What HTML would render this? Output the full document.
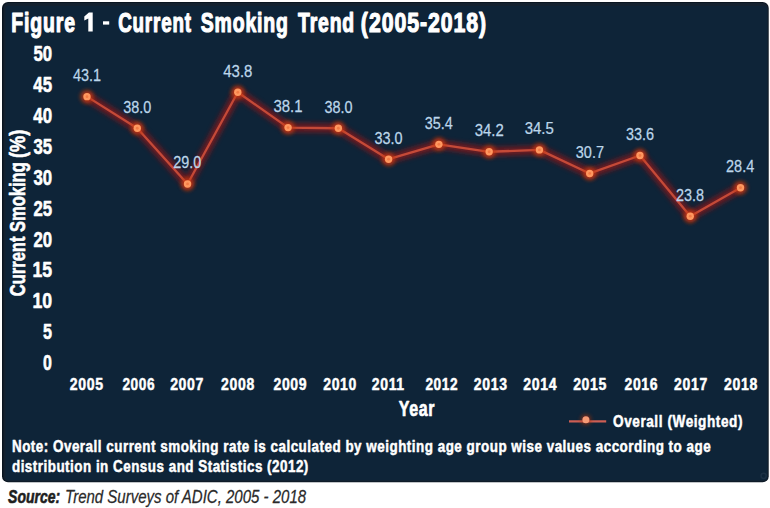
<!DOCTYPE html>
<html><head><meta charset="utf-8"><style>
html,body{margin:0;padding:0;background:#fff;}
body{width:770px;height:508px;overflow:hidden;position:relative;font-family:"Liberation Sans", sans-serif;}
svg{position:absolute;left:0;top:0;}
</style></head><body>
<svg width="770" height="508" viewBox="0 0 770 508" font-family='"Liberation Sans", sans-serif'>
<defs>
<filter id="glow" x="-20%" y="-20%" width="140%" height="140%"><feGaussianBlur stdDeviation="2.8"/></filter>
<filter id="glow2" x="-50%" y="-50%" width="200%" height="200%"><feGaussianBlur stdDeviation="2"/></filter>
</defs>
<rect x="2" y="2" width="766.7" height="480.2" rx="6" ry="6" fill="#0a1520"/>
<rect x="3.5" y="3" width="764.4" height="478.4" rx="5" ry="5" fill="#142230"/>
<rect x="5.5" y="6" width="761.8" height="474.2" rx="3" ry="3" fill="#0e2438"/>
<circle cx="763.6" cy="475.8" r="2.6" fill="none" stroke="#1b3044" stroke-width="1.5"/>

<polyline points="87.00,96.64 137.27,128.23 187.54,183.97 237.81,92.30 288.08,127.61 338.35,128.23 388.62,159.20 438.89,144.33 489.16,151.77 539.43,149.91 589.70,173.44 639.97,155.48 690.24,216.18 740.51,187.69" fill="none" stroke="#961818" stroke-width="9" stroke-linejoin="round" opacity="0.7" filter="url(#glow)"/>
<polyline points="87.00,96.64 137.27,128.23 187.54,183.97 237.81,92.30 288.08,127.61 338.35,128.23 388.62,159.20 438.89,144.33 489.16,151.77 539.43,149.91 589.70,173.44 639.97,155.48 690.24,216.18 740.51,187.69" fill="none" stroke="#c44a38" stroke-width="2.3" stroke-linejoin="round"/>
<circle cx="87.00" cy="96.64" r="6.5" fill="#c8380e" opacity="0.85" filter="url(#glow2)"/>
<circle cx="137.27" cy="128.23" r="6.5" fill="#c8380e" opacity="0.85" filter="url(#glow2)"/>
<circle cx="187.54" cy="183.97" r="6.5" fill="#c8380e" opacity="0.85" filter="url(#glow2)"/>
<circle cx="237.81" cy="92.30" r="6.5" fill="#c8380e" opacity="0.85" filter="url(#glow2)"/>
<circle cx="288.08" cy="127.61" r="6.5" fill="#c8380e" opacity="0.85" filter="url(#glow2)"/>
<circle cx="338.35" cy="128.23" r="6.5" fill="#c8380e" opacity="0.85" filter="url(#glow2)"/>
<circle cx="388.62" cy="159.20" r="6.5" fill="#c8380e" opacity="0.85" filter="url(#glow2)"/>
<circle cx="438.89" cy="144.33" r="6.5" fill="#c8380e" opacity="0.85" filter="url(#glow2)"/>
<circle cx="489.16" cy="151.77" r="6.5" fill="#c8380e" opacity="0.85" filter="url(#glow2)"/>
<circle cx="539.43" cy="149.91" r="6.5" fill="#c8380e" opacity="0.85" filter="url(#glow2)"/>
<circle cx="589.70" cy="173.44" r="6.5" fill="#c8380e" opacity="0.85" filter="url(#glow2)"/>
<circle cx="639.97" cy="155.48" r="6.5" fill="#c8380e" opacity="0.85" filter="url(#glow2)"/>
<circle cx="690.24" cy="216.18" r="6.5" fill="#c8380e" opacity="0.85" filter="url(#glow2)"/>
<circle cx="740.51" cy="187.69" r="6.5" fill="#c8380e" opacity="0.85" filter="url(#glow2)"/>
<circle cx="87.00" cy="96.64" r="3.7" fill="#ff9860"/>
<circle cx="87.00" cy="96.64" r="1.4" fill="#f47c44"/>
<circle cx="137.27" cy="128.23" r="3.7" fill="#ff9860"/>
<circle cx="137.27" cy="128.23" r="1.4" fill="#f47c44"/>
<circle cx="187.54" cy="183.97" r="3.7" fill="#ff9860"/>
<circle cx="187.54" cy="183.97" r="1.4" fill="#f47c44"/>
<circle cx="237.81" cy="92.30" r="3.7" fill="#ff9860"/>
<circle cx="237.81" cy="92.30" r="1.4" fill="#f47c44"/>
<circle cx="288.08" cy="127.61" r="3.7" fill="#ff9860"/>
<circle cx="288.08" cy="127.61" r="1.4" fill="#f47c44"/>
<circle cx="338.35" cy="128.23" r="3.7" fill="#ff9860"/>
<circle cx="338.35" cy="128.23" r="1.4" fill="#f47c44"/>
<circle cx="388.62" cy="159.20" r="3.7" fill="#ff9860"/>
<circle cx="388.62" cy="159.20" r="1.4" fill="#f47c44"/>
<circle cx="438.89" cy="144.33" r="3.7" fill="#ff9860"/>
<circle cx="438.89" cy="144.33" r="1.4" fill="#f47c44"/>
<circle cx="489.16" cy="151.77" r="3.7" fill="#ff9860"/>
<circle cx="489.16" cy="151.77" r="1.4" fill="#f47c44"/>
<circle cx="539.43" cy="149.91" r="3.7" fill="#ff9860"/>
<circle cx="539.43" cy="149.91" r="1.4" fill="#f47c44"/>
<circle cx="589.70" cy="173.44" r="3.7" fill="#ff9860"/>
<circle cx="589.70" cy="173.44" r="1.4" fill="#f47c44"/>
<circle cx="639.97" cy="155.48" r="3.7" fill="#ff9860"/>
<circle cx="639.97" cy="155.48" r="1.4" fill="#f47c44"/>
<circle cx="690.24" cy="216.18" r="3.7" fill="#ff9860"/>
<circle cx="690.24" cy="216.18" r="1.4" fill="#f47c44"/>
<circle cx="740.51" cy="187.69" r="3.7" fill="#ff9860"/>
<circle cx="740.51" cy="187.69" r="1.4" fill="#f47c44"/>
<path d="M88.9 12.6 L92.7 12.6 L92.7 31.6 L88.3 31.6 L88.3 18.6 L84.3 20.6 L84.3 16.6 Z" fill="#fff"/>
<rect x="103" y="21.3" width="6.2" height="3.3" fill="#fff"/>
<line x1="569" y1="421.6" x2="606.2" y2="421.6" stroke="#7a1020" stroke-width="5" opacity="0.7" filter="url(#glow2)"/>
<line x1="569" y1="421.4" x2="606.2" y2="421.4" stroke="#cc5e54" stroke-width="2.3"/>
<circle cx="585.9" cy="419.8" r="5" fill="#b0300c" opacity="0.7" filter="url(#glow2)"/>
<circle cx="585.9" cy="419.7" r="3.5" fill="#f59a76"/>
<text transform="translate(11.30,31.50) scale(0.7045,1)" font-size="27.62" font-weight="bold" font-style="normal" fill="#ffffff" stroke="#ffffff" stroke-width="1.2" stroke-linejoin="round" letter-spacing="1.2">Figure</text>
<text transform="translate(118.15,31.50) scale(0.6814,1)" font-size="27.62" font-weight="bold" font-style="normal" fill="#ffffff" stroke="#ffffff" stroke-width="1.2" stroke-linejoin="round" letter-spacing="1.2">Current</text>
<text transform="translate(200.77,31.50) scale(0.7042,1)" font-size="27.62" font-weight="bold" font-style="normal" fill="#ffffff" stroke="#ffffff" stroke-width="1.2" stroke-linejoin="round" letter-spacing="1.2">Smoking</text>
<text transform="translate(298.11,31.50) scale(0.7002,1)" font-size="27.62" font-weight="bold" font-style="normal" fill="#ffffff" stroke="#ffffff" stroke-width="1.2" stroke-linejoin="round" letter-spacing="1.2">Trend</text>
<text transform="translate(360.87,31.50) scale(0.7710,1)" font-size="27.62" font-weight="bold" font-style="normal" fill="#ffffff" stroke="#ffffff" stroke-width="1.2" stroke-linejoin="round" letter-spacing="1.2">(2005-2018)</text>
<text transform="translate(43.11,370.40) scale(0.7391,1)" font-size="21.57" font-weight="bold" font-style="normal" fill="#ffffff" stroke="#ffffff" stroke-width="0.6" stroke-linejoin="round">0</text>
<text transform="translate(43.06,339.43) scale(0.7483,1)" font-size="21.57" font-weight="bold" font-style="normal" fill="#ffffff" stroke="#ffffff" stroke-width="0.6" stroke-linejoin="round">5</text>
<text transform="translate(32.45,308.46) scale(0.8181,1)" font-size="21.57" font-weight="bold" font-style="normal" fill="#ffffff" stroke="#ffffff" stroke-width="0.6" stroke-linejoin="round">10</text>
<text transform="translate(32.45,277.49) scale(0.8181,1)" font-size="21.57" font-weight="bold" font-style="normal" fill="#ffffff" stroke="#ffffff" stroke-width="0.6" stroke-linejoin="round">15</text>
<text transform="translate(33.45,246.52) scale(0.7772,1)" font-size="21.57" font-weight="bold" font-style="normal" fill="#ffffff" stroke="#ffffff" stroke-width="0.6" stroke-linejoin="round">20</text>
<text transform="translate(33.45,215.55) scale(0.7772,1)" font-size="21.57" font-weight="bold" font-style="normal" fill="#ffffff" stroke="#ffffff" stroke-width="0.6" stroke-linejoin="round">25</text>
<text transform="translate(33.45,184.58) scale(0.7772,1)" font-size="21.57" font-weight="bold" font-style="normal" fill="#ffffff" stroke="#ffffff" stroke-width="0.6" stroke-linejoin="round">30</text>
<text transform="translate(33.45,153.61) scale(0.7772,1)" font-size="21.57" font-weight="bold" font-style="normal" fill="#ffffff" stroke="#ffffff" stroke-width="0.6" stroke-linejoin="round">35</text>
<text transform="translate(33.27,122.64) scale(0.7840,1)" font-size="21.57" font-weight="bold" font-style="normal" fill="#ffffff" stroke="#ffffff" stroke-width="0.6" stroke-linejoin="round">40</text>
<text transform="translate(33.25,91.67) scale(0.7840,1)" font-size="21.57" font-weight="bold" font-style="normal" fill="#ffffff" stroke="#ffffff" stroke-width="0.6" stroke-linejoin="round">45</text>
<text transform="translate(33.45,60.70) scale(0.7772,1)" font-size="21.57" font-weight="bold" font-style="normal" fill="#ffffff" stroke="#ffffff" stroke-width="0.6" stroke-linejoin="round">50</text>
<text transform="translate(69.75,389.90) scale(0.8150,1)" font-size="17.29" font-weight="bold" font-style="normal" fill="#ffffff" stroke="#ffffff" stroke-width="0.5" stroke-linejoin="round" letter-spacing="0.8">2005</text>
<text transform="translate(122.38,389.90) scale(0.7903,1)" font-size="17.29" font-weight="bold" font-style="normal" fill="#ffffff" stroke="#ffffff" stroke-width="0.5" stroke-linejoin="round" letter-spacing="0.8">2006</text>
<text transform="translate(170.13,389.90) scale(0.8150,1)" font-size="17.29" font-weight="bold" font-style="normal" fill="#ffffff" stroke="#ffffff" stroke-width="0.5" stroke-linejoin="round" letter-spacing="0.8">2007</text>
<text transform="translate(221.08,389.90) scale(0.8108,1)" font-size="17.29" font-weight="bold" font-style="normal" fill="#ffffff" stroke="#ffffff" stroke-width="0.5" stroke-linejoin="round" letter-spacing="0.8">2008</text>
<text transform="translate(273.46,389.90) scale(0.8108,1)" font-size="17.29" font-weight="bold" font-style="normal" fill="#ffffff" stroke="#ffffff" stroke-width="0.5" stroke-linejoin="round" letter-spacing="0.8">2009</text>
<text transform="translate(323.24,389.90) scale(0.8101,1)" font-size="17.29" font-weight="bold" font-style="normal" fill="#ffffff" stroke="#ffffff" stroke-width="0.5" stroke-linejoin="round" letter-spacing="0.8">2010</text>
<text transform="translate(371.84,389.90) scale(0.8108,1)" font-size="17.29" font-weight="bold" font-style="normal" fill="#ffffff" stroke="#ffffff" stroke-width="0.5" stroke-linejoin="round" letter-spacing="0.8">2011</text>
<text transform="translate(425.38,389.90) scale(0.7903,1)" font-size="17.29" font-weight="bold" font-style="normal" fill="#ffffff" stroke="#ffffff" stroke-width="0.5" stroke-linejoin="round" letter-spacing="0.8">2012</text>
<text transform="translate(473.86,389.90) scale(0.8101,1)" font-size="17.29" font-weight="bold" font-style="normal" fill="#ffffff" stroke="#ffffff" stroke-width="0.5" stroke-linejoin="round" letter-spacing="0.8">2013</text>
<text transform="translate(523.23,389.90) scale(0.8150,1)" font-size="17.29" font-weight="bold" font-style="normal" fill="#ffffff" stroke="#ffffff" stroke-width="0.5" stroke-linejoin="round" letter-spacing="0.8">2014</text>
<text transform="translate(573.13,389.90) scale(0.8150,1)" font-size="17.29" font-weight="bold" font-style="normal" fill="#ffffff" stroke="#ffffff" stroke-width="0.5" stroke-linejoin="round" letter-spacing="0.8">2015</text>
<text transform="translate(624.46,389.90) scale(0.8108,1)" font-size="17.29" font-weight="bold" font-style="normal" fill="#ffffff" stroke="#ffffff" stroke-width="0.5" stroke-linejoin="round" letter-spacing="0.8">2016</text>
<text transform="translate(674.08,389.90) scale(0.8108,1)" font-size="17.29" font-weight="bold" font-style="normal" fill="#ffffff" stroke="#ffffff" stroke-width="0.5" stroke-linejoin="round" letter-spacing="0.8">2017</text>
<text transform="translate(724.00,389.90) scale(0.8150,1)" font-size="17.29" font-weight="bold" font-style="normal" fill="#ffffff" stroke="#ffffff" stroke-width="0.5" stroke-linejoin="round" letter-spacing="0.8">2018</text>
<text transform="translate(398.87,416.00) scale(0.7329,1)" font-size="21.80" font-weight="bold" font-style="normal" fill="#ffffff" stroke="#ffffff" stroke-width="0.7" stroke-linejoin="round" letter-spacing="0.8">Year</text>
<text transform="translate(73.00,81.04) scale(0.9032,1)" font-size="16.00" font-weight="normal" font-style="normal" fill="#bcd6ea" stroke="#bcd6ea" stroke-width="0.25" stroke-linejoin="round">43.1</text>
<text transform="translate(123.13,112.63) scale(0.9011,1)" font-size="16.00" font-weight="normal" font-style="normal" fill="#bcd6ea" stroke="#bcd6ea" stroke-width="0.25" stroke-linejoin="round">38.0</text>
<text transform="translate(173.19,168.37) scale(0.9011,1)" font-size="16.00" font-weight="normal" font-style="normal" fill="#bcd6ea" stroke="#bcd6ea" stroke-width="0.25" stroke-linejoin="round">29.0</text>
<text transform="translate(223.24,76.70) scale(0.9367,1)" font-size="16.00" font-weight="normal" font-style="normal" fill="#bcd6ea" stroke="#bcd6ea" stroke-width="0.25" stroke-linejoin="round">43.8</text>
<text transform="translate(273.38,112.01) scale(0.9333,1)" font-size="16.00" font-weight="normal" font-style="normal" fill="#bcd6ea" stroke="#bcd6ea" stroke-width="0.25" stroke-linejoin="round">38.1</text>
<text transform="translate(324.45,112.63) scale(0.9011,1)" font-size="16.00" font-weight="normal" font-style="normal" fill="#bcd6ea" stroke="#bcd6ea" stroke-width="0.25" stroke-linejoin="round">38.0</text>
<text transform="translate(374.51,143.60) scale(0.9011,1)" font-size="16.00" font-weight="normal" font-style="normal" fill="#bcd6ea" stroke="#bcd6ea" stroke-width="0.25" stroke-linejoin="round">33.0</text>
<text transform="translate(424.64,128.73) scale(0.9011,1)" font-size="16.00" font-weight="normal" font-style="normal" fill="#bcd6ea" stroke="#bcd6ea" stroke-width="0.25" stroke-linejoin="round">35.4</text>
<text transform="translate(474.70,136.17) scale(0.9333,1)" font-size="16.00" font-weight="normal" font-style="normal" fill="#bcd6ea" stroke="#bcd6ea" stroke-width="0.25" stroke-linejoin="round">34.2</text>
<text transform="translate(524.74,134.31) scale(0.9345,1)" font-size="16.00" font-weight="normal" font-style="normal" fill="#bcd6ea" stroke="#bcd6ea" stroke-width="0.25" stroke-linejoin="round">34.5</text>
<text transform="translate(575.80,157.84) scale(0.9044,1)" font-size="16.00" font-weight="normal" font-style="normal" fill="#bcd6ea" stroke="#bcd6ea" stroke-width="0.25" stroke-linejoin="round">30.7</text>
<text transform="translate(625.95,139.88) scale(0.9011,1)" font-size="16.00" font-weight="normal" font-style="normal" fill="#bcd6ea" stroke="#bcd6ea" stroke-width="0.25" stroke-linejoin="round">33.6</text>
<text transform="translate(676.02,200.58) scale(0.9011,1)" font-size="16.00" font-weight="normal" font-style="normal" fill="#bcd6ea" stroke="#bcd6ea" stroke-width="0.25" stroke-linejoin="round">23.8</text>
<text transform="translate(726.09,172.09) scale(0.9032,1)" font-size="16.00" font-weight="normal" font-style="normal" fill="#bcd6ea" stroke="#bcd6ea" stroke-width="0.25" stroke-linejoin="round">28.4</text>
<text transform="translate(613.00,427.00) scale(0.8006,1)" font-size="17.01" font-weight="bold" font-style="normal" fill="#ffffff" stroke="#ffffff" stroke-width="0.5" stroke-linejoin="round" letter-spacing="0.7">Overall (Weighted)</text>
<text transform="translate(11.93,451.80) scale(0.8259,1)" font-size="16.28" font-weight="bold" font-style="normal" fill="#ffffff" stroke="#ffffff" stroke-width="0.5" stroke-linejoin="round" letter-spacing="0.6">Note: Overall current smoking rate is calculated by weighting age group wise values according to age</text>
<text transform="translate(11.94,472.40) scale(0.8251,1)" font-size="16.28" font-weight="bold" font-style="normal" fill="#ffffff" stroke="#ffffff" stroke-width="0.5" stroke-linejoin="round" letter-spacing="0.6">distribution in Census and Statistics (2012)</text>
<text transform="translate(8.12,503.10) scale(0.7705,1)" font-size="18.17" font-weight="bold" font-style="italic" fill="#1e1e1e" stroke="#1e1e1e" stroke-width="0.6" stroke-linejoin="round">Source:</text>
<text transform="translate(65.11,503.10) scale(0.8259,1)" font-size="18.17" font-weight="normal" font-style="italic" fill="#2a2a2a" stroke="#2a2a2a" stroke-width="0.25" stroke-linejoin="round">Trend Surveys of ADIC, 2005 - 2018</text>
<g transform="translate(25.3,296.2) rotate(-90)"><text transform="translate(0.00,0.00) scale(0.7684,1)" font-size="21.51" font-weight="bold" font-style="normal" fill="#ffffff" stroke="#ffffff" stroke-width="0.6" stroke-linejoin="round">Current Smoking</text></g>
<g transform="translate(25.3,296.2) rotate(-90)"><text transform="translate(138.23,0.00) scale(0.8427,1)" font-size="21.51" font-weight="bold" font-style="normal" fill="#ffffff" stroke="#ffffff" stroke-width="0.6" stroke-linejoin="round">(%)</text></g>
</svg></body></html>
